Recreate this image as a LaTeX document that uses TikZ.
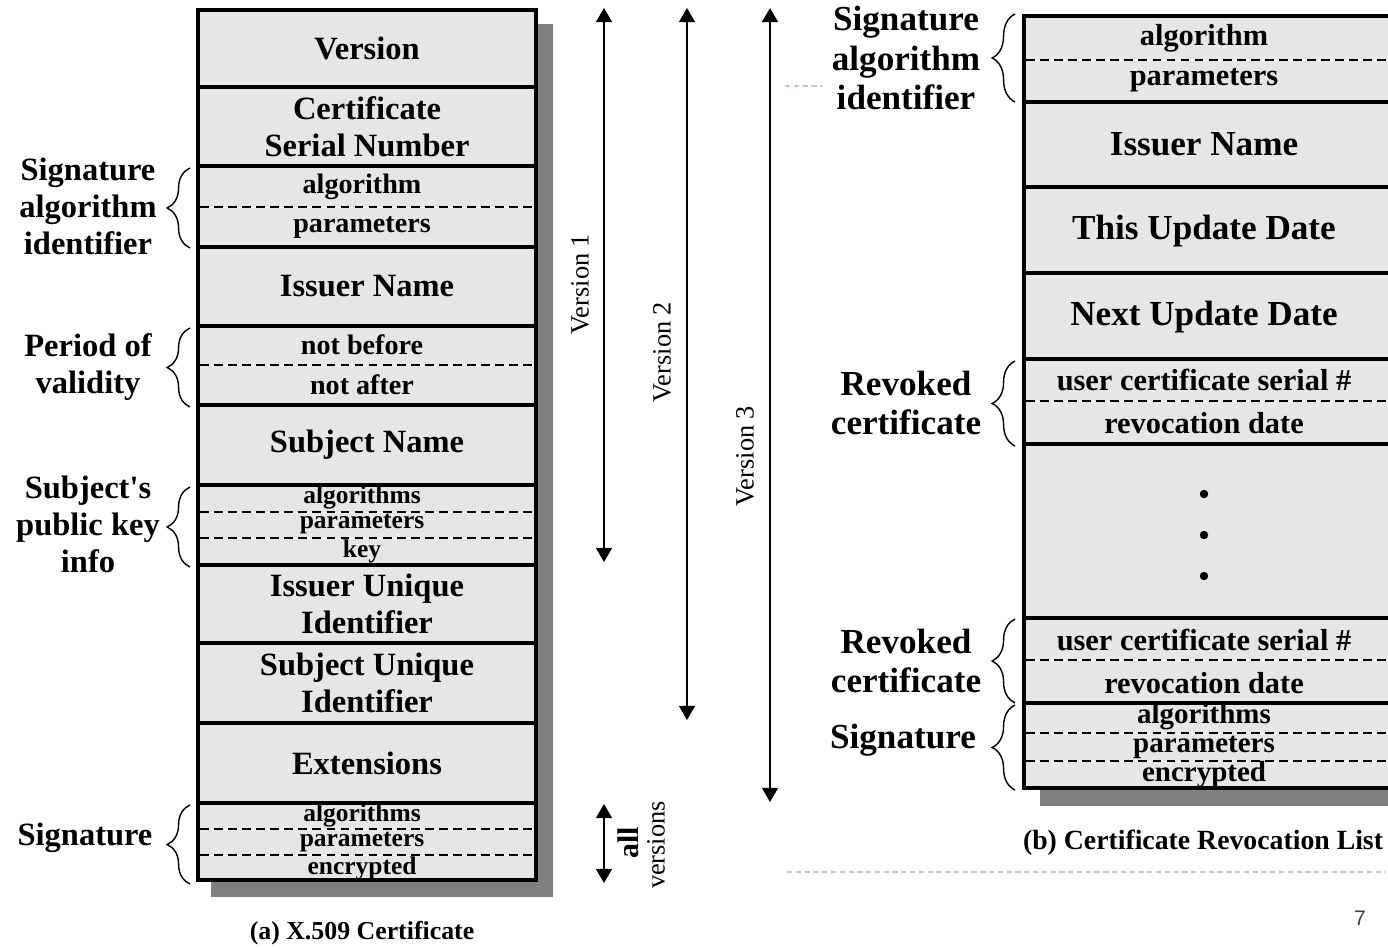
\documentclass[tikz,border=0pt]{standalone}
\usepackage{fontspec}
\setmainfont{Liberation Serif}
\newfontfamily\pagefont{Liberation Sans}
\usetikzlibrary{arrows.meta,decorations.pathreplacing}

\definecolor{cellgray}{RGB}{229,230,232}
\definecolor{shadowgray}{RGB}{128,128,130}
\definecolor{slideblue}{RGB}{185,200,220}

\tikzset{
   field/.style={draw, line width=2.8pt, fill=cellgray, inner sep=0pt, align=center},
   rowh/.style={minimum height=#1*0.02cm},
   leftw/.style={minimum width=338*0.02cm},
   rightw/.style={minimum width=369*0.02cm},
   bigtext/.style={font=\fontsize{18.5}{21}\selectfont\bfseries},
   smalltext/.style={font=\fontsize{16}{18}\selectfont\bfseries, inner sep=0pt},
   tighttext/.style={font=\fontsize{14.5}{16}\selectfont\bfseries, inner sep=0pt},
   crlbig/.style={font=\fontsize{20}{23}\selectfont\bfseries, inner sep=0pt},
   crlsmall/.style={font=\fontsize{17.3}{20}\selectfont\bfseries, inner sep=0pt},
   crltight/.style={font=\fontsize{16.5}{19}\selectfont\bfseries, inner sep=0pt},
   leftlabel/.style={font=\fontsize{18.5}{21}\selectfont\bfseries, align=center, inner sep=0pt},
   rightlabel/.style={font=\fontsize{20}{22.7}\selectfont\bfseries, align=center, inner sep=0pt},
   subdiv/.style={line width=0.9pt, dash pattern=on 5pt off 3pt, preaction={draw=white, solid}},
   curly/.style={decorate, decoration={brace, amplitude=13pt, aspect=0.5}, line width=0.8pt},
   verarrow/.style={<->, >={Triangle[length=8pt,width=9pt]}, line width=1.1pt},
   verlabel/.style={rotate=90, font=\fontsize{15}{18}\selectfont, inner sep=0pt},
   caption/.style={font=\bfseries, inner sep=0pt},
   slideline/.style={draw=slideblue, line width=0.6pt, dash pattern=on 3pt off 2pt}
}

\begin{document}
\begin{tikzpicture}[x=0.02cm, y=-0.02cm]

   \useasboundingbox (0,0) rectangle (1388,949);
   \clip (0,0) rectangle (1388,949);

   \fill [shadowgray] (211,24) rectangle (553,897);
   \fill [shadowgray] (1040,32) rectangle (1410,806);

   \node (Version) at (367,48.5) [field, leftw, rowh=77, bigtext] {Version};
   \node (CertSerial) at (367,126.5) [field, leftw, rowh=79, bigtext] {Certificate\\Serial Number};
   \node (SigAlg) at (367,206.5) [field, leftw, rowh=81] {};
   \node (IssuerName) at (367,286.5) [field, leftw, rowh=79, bigtext] {Issuer Name};
   \node (Validity) at (367,365.5) [field, leftw, rowh=79] {};
   \node (SubjectName) at (367,445) [field, leftw, rowh=80, bigtext] {Subject Name};
   \node (PubKey) at (367,525) [field, leftw, rowh=80] {};
   \node (IssuerUID) at (367,604) [field, leftw, rowh=78, bigtext] {Issuer Unique\\Identifier};
   \node (SubjectUID) at (367,683) [field, leftw, rowh=80, bigtext] {Subject Unique\\Identifier};
   \node (Extensions) at (367,763) [field, leftw, rowh=80, bigtext] {Extensions};
   \node (Signature) at (367,841.5) [field, leftw, rowh=77] {};

   \draw [subdiv] (200,207) -- (534,207);
   \draw [subdiv] (200,365) -- (534,365);
   \draw [subdiv] (200,512) -- (534,512);
   \draw [subdiv] (200,538) -- (534,538);
   \draw [subdiv] (200,829) -- (534,829);
   \draw [subdiv] (200,855) -- (534,855);

   \node (SigAlgA) at (362,187) [smalltext] {algorithm};
   \node (SigAlgP) at (362,228) [smalltext] {parameters};
   \node (NotBefore) at (362,345) [smalltext] {not before};
   \node (NotAfter) at (362,385) [smalltext] {not after};
   \node (PubKeyA) at (362,497) [tighttext] {algorithms};
   \node (PubKeyP) at (362,524) [tighttext] {parameters};
   \node (PubKeyK) at (362,551) [tighttext] {key};
   \node (SignatureA) at (362,815) [tighttext] {algorithms};
   \node (SignatureP) at (362,842) [tighttext] {parameters};
   \node (SignatureE) at (362,868) [tighttext] {encrypted};

   \draw [curly] (190,248) -- (190,168);
   \draw [curly] (190,407) -- (190,328);
   \draw [curly] (190,567) -- (190,487);
   \draw [curly] (190,884) -- (190,805);

   \node (SigAlgLabel) at (88,206) [leftlabel] {Signature\\algorithm\\identifier};
   \node (ValidityLabel) at (88,367) [leftlabel] {Period of\\validity};
   \node (PubKeyLabel) at (88,524) [leftlabel] {Subject\textquotesingle s\\public key\\info};
   \node (SignatureLabel) at (85,838) [leftlabel] {Signature};

   \coordinate (VOneTop) at (604,8);
   \coordinate (VOneBot) at (604,562);
   \coordinate (VTwoTop) at (687,8);
   \coordinate (VTwoBot) at (687,720);
   \coordinate (VThreeTop) at (770,8);
   \coordinate (VThreeBot) at (770,802);
   \coordinate (AllTop) at (604,804);
   \coordinate (AllBot) at (604,883);

   \draw [verarrow] (VOneTop) -- (VOneBot);
   \draw [verarrow] (VTwoTop) -- (VTwoBot);
   \draw [verarrow] (VThreeTop) -- (VThreeBot);
   \draw [verarrow] (AllTop) -- (AllBot);

   \node (VOneLabel) at (580,284) [verlabel] {Version 1};
   \node (VTwoLabel) at (662,352) [verlabel] {Version 2};
   \node (VThreeLabel) at (745,456) [verlabel] {Version 3};
   \node (AllLabel) at (628,843) [verlabel, font=\fontsize{17}{18}\selectfont\bfseries] {all};
   \node (VersionsLabel) at (656,845) [verlabel] {versions};

   \node (CrlSigAlg) at (1208.5,59) [field, rightw, rowh=86] {};
   \node (CrlIssuer) at (1208.5,144.5) [field, rightw, rowh=85] {};
   \node (ThisUpdate) at (1208.5,230) [field, rightw, rowh=86] {};
   \node (NextUpdate) at (1208.5,316) [field, rightw, rowh=86] {};
   \node (RevokedOne) at (1208.5,401.5) [field, rightw, rowh=85] {};
   \node (Ellipsis) at (1208.5,531) [field, rightw, rowh=174] {};
   \node (RevokedTwo) at (1208.5,660.5) [field, rightw, rowh=85] {};
   \node (CrlSignature) at (1208.5,745.5) [field, rightw, rowh=85] {};

   \draw [subdiv] (1026,60) -- (1390,60);
   \draw [subdiv] (1026,401) -- (1390,401);
   \draw [subdiv] (1026,660) -- (1390,660);
   \draw [subdiv] (1026,733) -- (1390,733);
   \draw [subdiv] (1026,761) -- (1390,761);

   \node (CrlSigAlgA) at (1204,38) [crlsmall] {algorithm};
   \node (CrlSigAlgP) at (1204,80) [crlsmall] {parameters};
   \node (CrlIssuerText) at (1204,144) [crlbig] {Issuer Name};
   \node (ThisUpdateText) at (1204,231) [crlbig] {This Update Date};
   \node (NextUpdateText) at (1204,317) [crlbig] {Next Update Date};
   \node (RevokedOneS) at (1204,380) [crlsmall] {user certificate serial \#};
   \node (RevokedOneD) at (1204,423) [crlsmall] {revocation date};
   \node (RevokedTwoS) at (1204,640) [crlsmall] {user certificate serial \#};
   \node (RevokedTwoD) at (1204,683) [crlsmall] {revocation date};
   \node (CrlSignatureA) at (1204,717) [crltight] {algorithms};
   \node (CrlSignatureP) at (1204,747) [crltight] {parameters};
   \node (CrlSignatureE) at (1204,775) [crltight] {encrypted};

   \fill (1204,494) circle (2.4pt);
   \fill (1204,535) circle (2.4pt);
   \fill (1204,576) circle (2.4pt);

   \draw [curly] (1015,102) -- (1015,14);
   \draw [curly] (1015,446) -- (1015,361);
   \draw [curly] (1015,703) -- (1015,619);
   \draw [curly] (1015,790) -- (1015,705);

   \node (CrlSigAlgLabel) at (906,58) [rightlabel] {Signature\\algorithm\\identifier};
   \node (RevokedOneLabel) at (906,403) [rightlabel] {Revoked\\certificate};
   \node (RevokedTwoLabel) at (906,661) [rightlabel] {Revoked\\certificate};
   \node (CrlSignatureLabel) at (903,740) [rightlabel] {Signature};

   \node (CaptionA) at (362,933) [caption, font=\fontsize{14.7}{17}\selectfont\bfseries] {(a) X.509 Certificate};
   \node (CaptionB) at (1203,843) [caption, font=\fontsize{15.8}{18}\selectfont\bfseries] {(b) Certificate Revocation List};

   \draw [slideline] (785,86) -- (822,86);
   \draw [slideline] (787,872) -- (1385,872);
   \node (PageNum) at (1360,918) [font=\pagefont\fontsize{12}{14}\selectfont, text=black!75] {7};

\end{tikzpicture}
\end{document}
